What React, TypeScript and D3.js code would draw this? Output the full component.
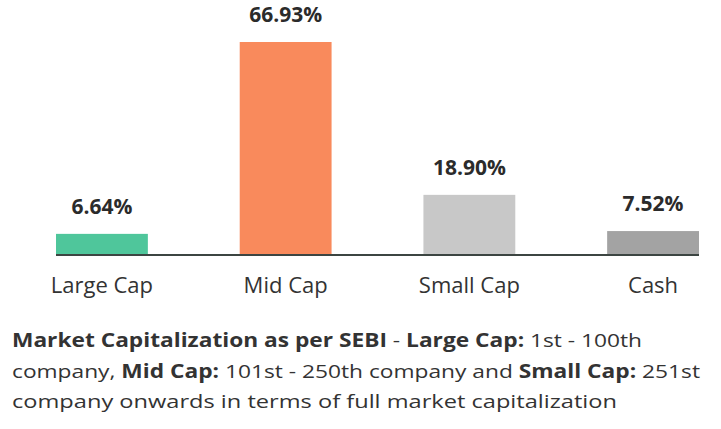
import * as d3 from 'd3'

const categories = ['Large Cap', 'Mid Cap', 'Small Cap', 'Cash']
const values = [6.64, 66.93, 18.9, 7.52]
const valueLabels = ['6.64%', '66.93%', '18.90%', '7.52%']
const barColors = ['#4fc69b', '#f98a5c', '#c8c8c8', '#a3a3a3']

// footnote lines: [text, bold]
const noteLines: [string, boolean][][] = [
  [['Market Capitalization as per SEBI', true], [' - ', false], ['Large Cap:', true], [' 1st - 100th', false]],
  [['company, ', false], ['Mid Cap:', true], [' 101st - 250th company and ', false], ['Small Cap:', true], [' 251st', false]],
  [['company onwards in terms of full market capitalization', false]]
]
// measured widths of each footnote line in the picture
const noteWidths = [630, 688, 605]

const width = 721
const height = 429
const font = '"Open Sans", "Noto Sans", sans-serif'

const App = () => {
  const x = d3.scaleBand()
    .domain(categories)
    .range([56, 699])
    .paddingInner(0.5)
    .paddingOuter(0)

  const y = d3.scaleLinear()
    .domain([0, 66.93])
    .range([255, 42])

  return (
    <svg
      width={width}
      height={height}
      style={{ position: 'absolute', left: 0, top: 0, background: '#fff' }}
      fontFamily={font}
    >
      {categories.map((c, i) => (
        <g key={c}>
          <rect
            x={x(c)}
            y={y(values[i])}
            width={x.bandwidth()}
            height={y(0) - y(values[i])}
            fill={barColors[i]}
          />
          <text
            x={x(c)! + x.bandwidth() / 2}
            y={y(values[i]) - 20}
            textAnchor="middle"
            fontSize={21}
            fontWeight="bold"
            fill="#2b2b2b"
          >
            {valueLabels[i]}
          </text>
          <text
            x={x(c)! + x.bandwidth() / 2}
            y={293}
            textAnchor="middle"
            fontSize={22}
            fill="#333"
          >
            {c}
          </text>
        </g>
      ))}
      <line x1={x.range()[0]} x2={x.range()[1]} y1={y(0)} y2={y(0)} stroke="#3c4542" strokeWidth={2} />
      {noteLines.map((line, li) => (
        <text
          key={li}
          x={12}
          y={347 + li * 30.5}
          fontSize={19}
          fill="#333"
          textLength={noteWidths[li]}
          lengthAdjust="spacingAndGlyphs"
        >
          {line.map(([t, b], j) => (
            <tspan key={j} fontWeight={b ? 'bold' : 'normal'} style={{ whiteSpace: 'pre' }}>{t}</tspan>
          ))}
        </text>
      ))}
    </svg>
  )
}

export default App
